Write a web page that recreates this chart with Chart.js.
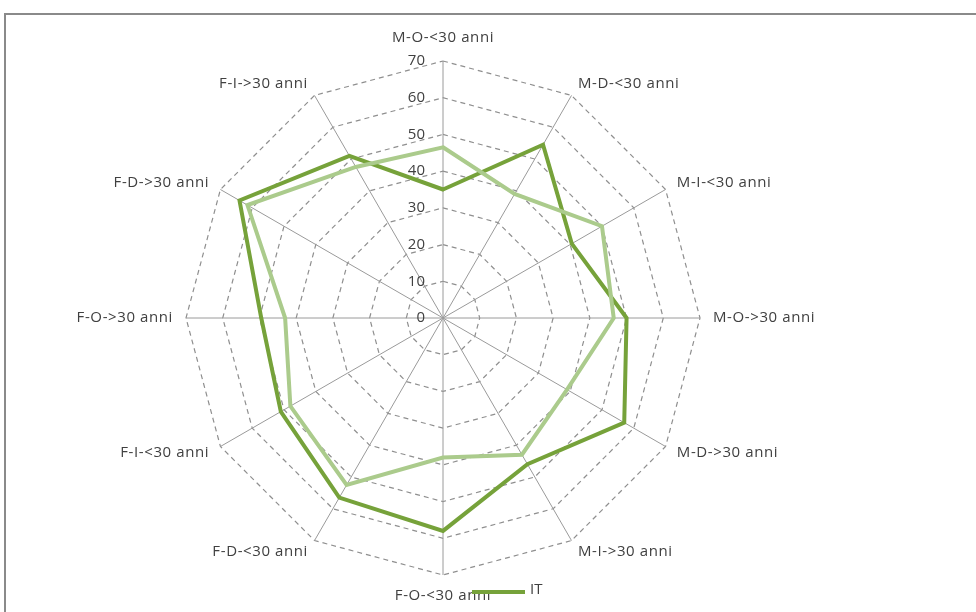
<!DOCTYPE html>
<html>
<head>
<meta charset="utf-8">
<script src="https://cdn.jsdelivr.net/npm/chart.js@4"></script>
<style>
  html, body { margin: 0; padding: 0; background: #fff; overflow: hidden; }
  #wrap { position: relative; width: 976px; height: 612px; }
  #frame { position: absolute; left: 4px; top: 13px; width: 1000px; height: 700px; border: 2px solid #8a8a8a; }
  canvas { position: absolute; left: 0; top: 0; }
</style>
</head>
<body>
<div id="wrap">
  <div id="frame"></div>
  <canvas id="radarChart" width="976" height="612"></canvas>
</div>
<script>
// categorie (in senso orario dall'alto)
const categories = [
  'M-O-<30 anni', 'M-D-<30 anni', 'M-I-<30 anni', 'M-O->30 anni',
  'M-D->30 anni', 'M-I->30 anni', 'F-O-<30 anni', 'F-D-<30 anni',
  'F-I-<30 anni', 'F-O->30 anni', 'F-D->30 anni', 'F-I->30 anni'
];

// serie IT (verde scuro)
const itValues = [35, 54.5, 40.5, 50, 57, 46, 58, 56.5, 51, 49.5, 64, 51];
// seconda serie (verde chiaro, legenda tagliata)
const otherValues = [46.5, 39, 50, 46.5, 39, 43, 38, 52.5, 48, 43, 61.5, 47.5];

// asse radiale
const tickMin = 0;
const tickMax = 70;
const tickStep = 10;

const darkGreen = '#76a23a';
const lightGreen = '#abcb8c';
const textColor = '#404040';
const textFont = "15px 'Open Sans', sans-serif";

// etichette, numeri dell'asse e legenda disegnati a mano
const labelsPlugin = {
  id: 'labelsPlugin',
  afterDraw(chart) {
    const scale = chart.scales.r;
    const ctx = chart.ctx;
    ctx.save();
    ctx.font = textFont;
    ctx.fillStyle = textColor;

    // numeri a sinistra dell'asse verticale
    ctx.textAlign = 'right';
    ctx.textBaseline = 'middle';
    scale.ticks.forEach(t => {
      const y = scale.yCenter - scale.getDistanceFromCenterForValue(t.value);
      ctx.fillText(String(t.value), scale.xCenter - 18, y);
    });

    // etichette delle categorie
    ctx.letterSpacing = '0.6px';
    chart.data.labels.forEach((lbl, i) => {
      const p = scale.getPointPosition(i, scale.drawingArea + 13);
      const s = Math.sin(p.angle + Math.PI / 2);
      const c = Math.cos(p.angle + Math.PI / 2);
      if (Math.abs(s) < 0.01) {
        ctx.textAlign = 'center';
        ctx.textBaseline = c > 0 ? 'bottom' : 'top';
      } else {
        ctx.textAlign = s > 0 ? 'left' : 'right';
        ctx.textBaseline = 'middle';
      }
      ctx.fillText(lbl, p.x, p.y + (Math.abs(s) < 0.01 && c > 0 ? -3 : 0));
    });

    // legenda (solo IT visibile)
    ctx.letterSpacing = '0px';
    ctx.strokeStyle = darkGreen;
    ctx.lineWidth = 4;
    ctx.beginPath();
    ctx.moveTo(472, 592);
    ctx.lineTo(525, 592);
    ctx.stroke();
    ctx.textAlign = 'left';
    ctx.textBaseline = 'middle';
    ctx.fillText('IT', 530, 590);
    ctx.restore();
  }
};

const ctxRadar = document.getElementById('radarChart').getContext('2d');
const radarChart = new Chart(ctxRadar, {
  type: 'radar',
  data: {
    labels: categories,
    datasets: [
      {
        label: 'IT',
        data: itValues,
        borderColor: darkGreen,
        borderWidth: 4,
        fill: false,
        pointRadius: 0,
        tension: 0,
        order: 1
      },
      {
        label: 'Serie 2',
        data: otherValues,
        borderColor: lightGreen,
        borderWidth: 4,
        fill: false,
        pointRadius: 0,
        tension: 0,
        order: 0
      }
    ]
  },
  options: {
    responsive: false,
    animation: false,
    layout: { padding: { left: 186, right: 276, top: 61, bottom: 37 } },
    plugins: {
      legend: { display: false },
      tooltip: { enabled: false }
    },
    scales: {
      r: {
        min: tickMin,
        max: tickMax,
        ticks: { stepSize: tickStep, display: false },
        pointLabels: { display: false },
        angleLines: { color: '#9a9a9a', lineWidth: 1 },
        grid: { color: '#8f8f8f', lineWidth: 1.2, circular: false },
        border: { dash: [5, 4] }
      }
    }
  },
  plugins: [labelsPlugin]
});
</script>
</body>
</html>
